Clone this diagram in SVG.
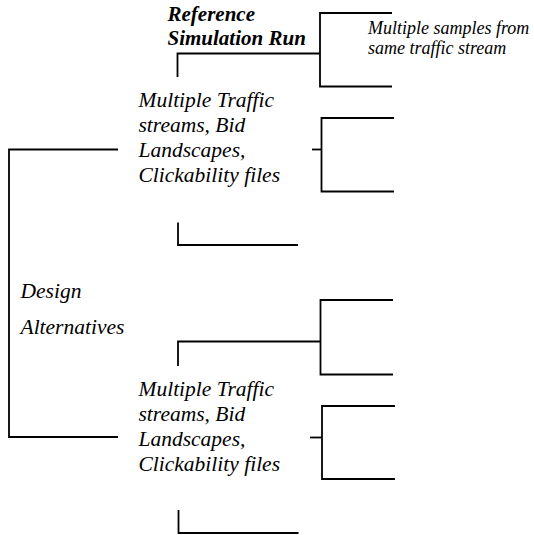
<svg xmlns="http://www.w3.org/2000/svg" width="534" height="535" viewBox="0 0 534 535" font-family="Liberation Serif">
<rect width="534" height="535" fill="#fff"/>
<g id="connectors" stroke="#000" stroke-width="1.8" fill="none">
  <path d="M118 149.5 H9 V437 H118"/>
  <path d="M177.5 77 V53.5 H320"/>
  <path d="M392 13 H320 V86.5 H392"/>
  <path d="M312 149.5 H321.5"/>
  <path d="M394 118 H321.5 V191.5 H394"/>
  <path d="M178 222.5 V245 H298"/>
  <path d="M178 366 V341.5 H320.5"/>
  <path d="M393 300 H320.5 V374.5 H393"/>
  <path d="M310 437.5 H322"/>
  <path d="M395 406 H322 V479 H395"/>
  <path d="M178.5 510 V533 H298.5"/>
</g>
<g id="ref-run">
  <text x="167.5" y="21" font-family="Times New Roman" font-style="italic" font-weight="bold" font-size="21">Reference</text>
  <text x="167.5" y="45" font-family="Times New Roman" font-style="italic" font-weight="bold" font-size="21">Simulation Run</text>
</g>
<g id="samples">
  <text x="368" y="34" font-family="Times New Roman" font-style="italic" font-size="18">Multiple samples from</text>
  <text x="368" y="53.5" font-family="Times New Roman" font-style="italic" font-size="18">same traffic stream</text>
</g>
<g id="streams-1">
  <text x="138.5" y="106.5" font-family="Times New Roman" font-style="italic" font-size="21.5">Multiple Traffic</text>
  <text x="138.5" y="131.5" font-family="Times New Roman" font-style="italic" font-size="21.5">streams, Bid</text>
  <text x="138.5" y="156.5" font-family="Times New Roman" font-style="italic" font-size="21.5">Landscapes,</text>
  <text x="138.5" y="181.5" font-family="Times New Roman" font-style="italic" font-size="21.5">Clickability files</text>
</g>
<g id="design-alternatives">
  <text x="20.5" y="298" font-family="Times New Roman" font-style="italic" font-size="21.5">Design</text>
  <text x="20.5" y="334" font-family="Times New Roman" font-style="italic" font-size="21.5">Alternatives</text>
</g>
<g id="streams-2">
  <text x="138.5" y="395.5" font-family="Times New Roman" font-style="italic" font-size="21.5">Multiple Traffic</text>
  <text x="138.5" y="420.5" font-family="Times New Roman" font-style="italic" font-size="21.5">streams, Bid</text>
  <text x="138.5" y="445.5" font-family="Times New Roman" font-style="italic" font-size="21.5">Landscapes,</text>
  <text x="138.5" y="470.5" font-family="Times New Roman" font-style="italic" font-size="21.5">Clickability files</text>
</g>
</svg>
